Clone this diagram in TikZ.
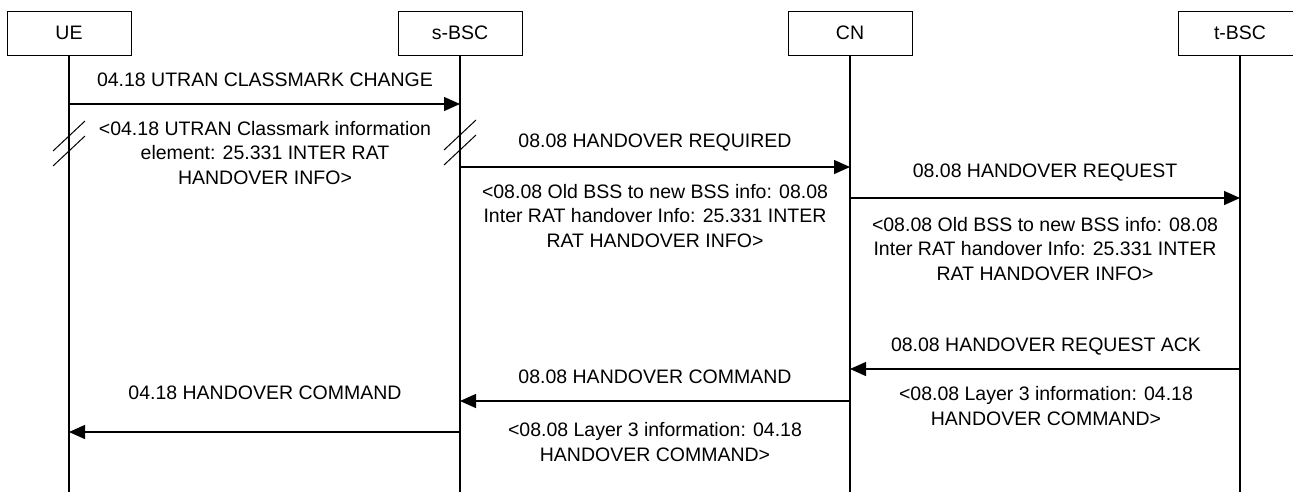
\documentclass[tikz,border=0pt]{standalone}
\usepackage{fontspec}
\setmainfont{Liberation Sans}
\usetikzlibrary{arrows.meta}
\begin{document}
\begin{tikzpicture}[x=1pt,y=-1pt,
  actor/.style={draw, line width=1pt, minimum width=124pt, minimum height=44pt, inner sep=0pt, font=\fontsize{19.5}{24}\selectfont},
  life/.style={line width=1.1pt},
  msg/.style={line width=1.3pt, -{Triangle[length=16pt,width=14pt]}},
  lbl/.style={font=\fontsize{19.5}{24.5}\selectfont, align=center, inner sep=0pt},
  brk/.style={line width=1pt}]
\useasboundingbox (0,0) rectangle (1293,491);
\clip (0,0) rectangle (1293,491);
\fill[white] (0,0) rectangle (1293,491);
% actors
\node[actor] (ue) at (69,33) {UE};
\node[actor] (sbsc) at (460,33) {s-BSC};
\node[actor] (cn) at (850,33) {CN};
\node[actor] (tbsc) at (1240,33) {t-BSC};
% lifeline ends
\coordinate (ueend) at (ue.south |- 0,495);
\coordinate (sbscend) at (sbsc.south |- 0,495);
\coordinate (cnend) at (cn.south |- 0,495);
\coordinate (tbscend) at (tbsc.south |- 0,495);
\draw[life] (ue.south) -- (ueend);
\draw[life] (sbsc.south) -- (sbscend);
\draw[life] (cn.south) -- (cnend);
\draw[life] (tbsc.south) -- (tbscend);
% message 1
\node[lbl] (m1) at (265,80) {04.18 UTRAN CLASSMARK CHANGE};
\draw[msg] (ue.south |- 0,104) -- (sbsc.south |- 0,104);
\node[lbl] (n1) at (265,153) {<04.18 UTRAN Classmark information\\element: 25.331 INTER RAT\\HANDOVER INFO>};
% break marks
\draw[brk] ([xshift=16pt]ue.south |- 0,121) -- ([xshift=-16pt]ue.south |- 0,151);
\draw[brk] ([xshift=16pt]ue.south |- 0,136) -- ([xshift=-16pt]ue.south |- 0,166);
\draw[brk] ([xshift=16pt]sbsc.south |- 0,120) -- ([xshift=-16pt]sbsc.south |- 0,150);
\draw[brk] ([xshift=16pt]sbsc.south |- 0,135) -- ([xshift=-16pt]sbsc.south |- 0,165);
% message 2
\node[lbl] (m2) at (655,143) {08.08 HANDOVER REQUIRED};
\draw[msg] (sbsc.south |- 0,167) -- (cn.south |- 0,167);
\node[lbl] (n2) at (655,216) {<08.08 Old BSS to new BSS info: 08.08\\Inter RAT handover Info: 25.331 INTER\\RAT HANDOVER INFO>};
% message 3
\node[lbl] (m3) at (1045,173) {08.08 HANDOVER REQUEST};
\draw[msg] (cn.south |- 0,198) -- (tbsc.south |- 0,198);
\node[lbl] (n3) at (1045,249) {<08.08 Old BSS to new BSS info: 08.08\\Inter RAT handover Info: 25.331 INTER\\RAT HANDOVER INFO>};
% message 4
\node[lbl] (m4) at (1046,347) {08.08 HANDOVER REQUEST ACK};
\draw[msg] (tbsc.south |- 0,369) -- (cn.south |- 0,369);
\node[lbl] (n4) at (1046,406) {<08.08 Layer 3 information: 04.18\\HANDOVER COMMAND>};
% message 5
\node[lbl] (m5) at (655,377) {08.08 HANDOVER COMMAND};
\draw[msg] (cn.south |- 0,401) -- (sbsc.south |- 0,401);
\node[lbl] (n5) at (655,442) {<08.08 Layer 3 information: 04.18\\HANDOVER COMMAND>};
% message 6
\node[lbl] (m6) at (265,393) {04.18 HANDOVER COMMAND};
\draw[msg] (sbsc.south |- 0,432) -- (ue.south |- 0,432);
\end{tikzpicture}
\end{document}
